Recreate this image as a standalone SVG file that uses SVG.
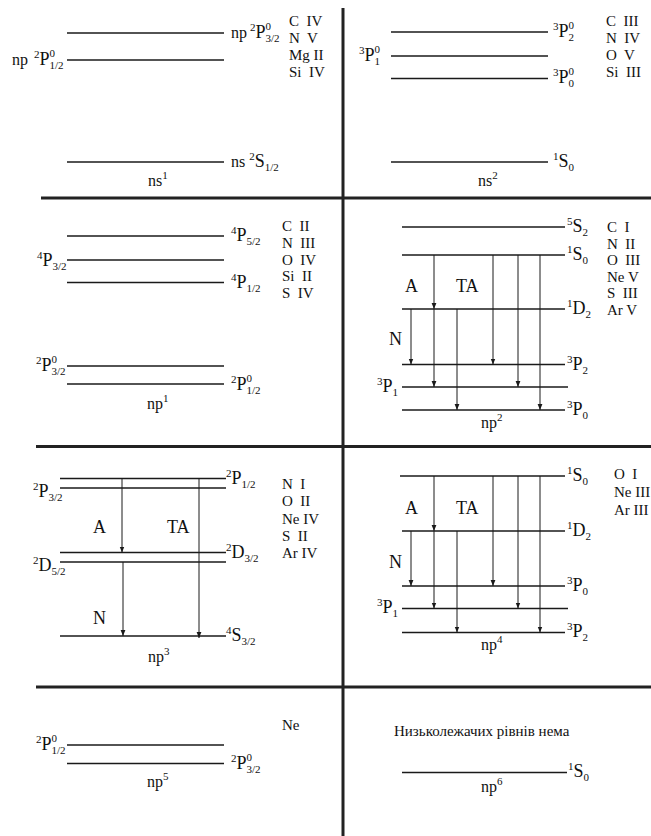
<svg xmlns="http://www.w3.org/2000/svg" width="651" height="836" viewBox="0 0 651 836">
<defs>
<style>
.fr{stroke:#222;stroke-width:3;fill:none}
.lv{stroke:#1a1a1a;stroke-width:1.5;fill:none}
.ar{stroke:#1a1a1a;stroke-width:1;fill:none;marker-end:url(#ah)}
text{font-family:"Liberation Serif","Times New Roman",serif;fill:#111}
.pre{font-size:16px}
.big{font-size:18px}
.sm{font-size:11px}
.ion{font-size:15px}
.tr{font-size:18px}
</style>
<marker id="ah" viewBox="0 0 6 6" refX="6" refY="3" markerWidth="6" markerHeight="6" markerUnits="userSpaceOnUse" orient="auto">
<path d="M0,0.6 L6,3 L0,5.4 Z" fill="#1a1a1a"/>
</marker>
</defs>
<rect width="651" height="836" fill="#fff"/>

<g id="frame">
<line class="fr" x1="343" y1="8" x2="343" y2="836"/>
<line class="fr" x1="41" y1="198" x2="651" y2="198"/>
<line class="fr" x1="36" y1="446.5" x2="651" y2="446.5"/>
<line class="fr" x1="36" y1="687" x2="651" y2="687"/>
</g>

<!-- Panel ns1 -->
<g id="panel-ns1">
<g id="ns1-P32"><line class="lv" x1="67" y1="33" x2="224" y2="33"/>
<text x="231" y="38"><tspan class="pre">np</tspan><tspan class="sm" dx="3" dy="-7">2</tspan><tspan class="big" dy="7">P</tspan><tspan class="sm" dy="-8">0</tspan><tspan class="sm" dx="-5.5" dy="12">3/2</tspan></text></g>
<g id="ns1-P12"><line class="lv" x1="67" y1="60" x2="224" y2="60"/>
<text x="12" y="65"><tspan class="pre">np</tspan><tspan class="sm" dx="6" dy="-7">2</tspan><tspan class="big" dy="7">P</tspan><tspan class="sm" dy="-8">0</tspan><tspan class="sm" dx="-5.5" dy="12">1/2</tspan></text></g>
<g id="ns1-S12"><line class="lv" x1="67" y1="162" x2="224" y2="162"/>
<text x="231" y="167"><tspan class="pre">ns</tspan><tspan class="sm" dx="4" dy="-7">2</tspan><tspan class="big" dy="7">S</tspan><tspan class="sm" dy="4">1/2</tspan></text></g>
<text class="pre" x="148" y="186">ns<tspan class="sm" dy="-7">1</tspan></text>
<g id="ns1-ions" class="ion">
<text x="289" y="26" xml:space="preserve">C  IV</text>
<text x="289" y="43" xml:space="preserve">N  V</text>
<text x="289" y="60" xml:space="preserve">Mg II</text>
<text x="289" y="77" xml:space="preserve">Si  IV</text>
</g>
</g>

<!-- Panel ns2 -->
<g id="panel-ns2">
<g id="ns2-P2"><line class="lv" x1="391" y1="32" x2="548" y2="32"/>
<text x="553" y="37"><tspan class="sm" dy="-7">3</tspan><tspan class="big" dy="7">P</tspan><tspan class="sm" dy="-8">0</tspan><tspan class="sm" dx="-5.5" dy="12">2</tspan></text></g>
<g id="ns2-P1"><line class="lv" x1="391" y1="56" x2="548" y2="56"/>
<text x="359" y="61"><tspan class="sm" dy="-7">3</tspan><tspan class="big" dy="7">P</tspan><tspan class="sm" dy="-8">0</tspan><tspan class="sm" dx="-5.5" dy="12">1</tspan></text></g>
<g id="ns2-P0"><line class="lv" x1="391" y1="78.5" x2="548" y2="78.5"/>
<text x="553" y="83"><tspan class="sm" dy="-7">3</tspan><tspan class="big" dy="7">P</tspan><tspan class="sm" dy="-8">0</tspan><tspan class="sm" dx="-5.5" dy="12">0</tspan></text></g>
<g id="ns2-S0"><line class="lv" x1="391" y1="162" x2="548" y2="162"/>
<text x="553" y="167"><tspan class="sm" dy="-7">1</tspan><tspan class="big" dy="7">S</tspan><tspan class="sm" dy="4">0</tspan></text></g>
<text class="pre" x="478" y="186">ns<tspan class="sm" dy="-7">2</tspan></text>
<g id="ns2-ions" class="ion">
<text x="606" y="26" xml:space="preserve">C  III</text>
<text x="606" y="43" xml:space="preserve">N  IV</text>
<text x="606" y="60" xml:space="preserve">O  V</text>
<text x="606" y="77" xml:space="preserve">Si  III</text>
</g>
</g>

<!-- Panel np1 -->
<g id="panel-np1">
<g id="np1-4P52"><line class="lv" x1="67" y1="236" x2="224" y2="236"/>
<text x="231" y="241"><tspan class="sm" dy="-7">4</tspan><tspan class="big" dy="7">P</tspan><tspan class="sm" dy="4">5/2</tspan></text></g>
<g id="np1-4P32"><line class="lv" x1="67" y1="260" x2="224" y2="260"/>
<text x="37" y="266"><tspan class="sm" dy="-7">4</tspan><tspan class="big" dy="7">P</tspan><tspan class="sm" dy="4">3/2</tspan></text></g>
<g id="np1-4P12"><line class="lv" x1="67" y1="282.5" x2="224" y2="282.5"/>
<text x="231" y="288"><tspan class="sm" dy="-7">4</tspan><tspan class="big" dy="7">P</tspan><tspan class="sm" dy="4">1/2</tspan></text></g>
<g id="np1-2P32"><line class="lv" x1="67" y1="366" x2="224" y2="366"/>
<text x="36" y="371"><tspan class="sm" dy="-7">2</tspan><tspan class="big" dy="7">P</tspan><tspan class="sm" dy="-8">0</tspan><tspan class="sm" dx="-5.5" dy="12">3/2</tspan></text></g>
<g id="np1-2P12"><line class="lv" x1="67" y1="384" x2="224" y2="384"/>
<text x="231" y="390"><tspan class="sm" dy="-7">2</tspan><tspan class="big" dy="7">P</tspan><tspan class="sm" dy="-8">0</tspan><tspan class="sm" dx="-5.5" dy="12">1/2</tspan></text></g>
<text class="pre" x="147" y="409">np<tspan class="sm" dy="-7">1</tspan></text>
<g id="np1-ions" class="ion">
<text x="282" y="231" xml:space="preserve">C  II</text>
<text x="282" y="247.75" xml:space="preserve">N  III</text>
<text x="282" y="264.5" xml:space="preserve">O  IV</text>
<text x="282" y="281.25" xml:space="preserve">Si  II</text>
<text x="282" y="298" xml:space="preserve">S  IV</text>
</g>
</g>

<!-- Panel np2 -->
<g id="panel-np2">
<g id="np2-5S2"><line class="lv" x1="402" y1="227" x2="565" y2="227"/>
<text x="567" y="232"><tspan class="sm" dy="-7">5</tspan><tspan class="big" dy="7">S</tspan><tspan class="sm" dy="4">2</tspan></text></g>
<g id="np2-1S0"><line class="lv" x1="402" y1="255" x2="565" y2="255"/>
<text x="567" y="260"><tspan class="sm" dy="-7">1</tspan><tspan class="big" dy="7">S</tspan><tspan class="sm" dy="4">0</tspan></text></g>
<g id="np2-1D2"><line class="lv" x1="402" y1="309" x2="565" y2="309"/>
<text x="567" y="314"><tspan class="sm" dy="-7">1</tspan><tspan class="big" dy="7">D</tspan><tspan class="sm" dy="4">2</tspan></text></g>
<g id="np2-3P2"><line class="lv" x1="402" y1="364.5" x2="565" y2="364.5"/>
<text x="567" y="370"><tspan class="sm" dy="-7">3</tspan><tspan class="big" dy="7">P</tspan><tspan class="sm" dy="4">2</tspan></text></g>
<g id="np2-3P1"><line class="lv" x1="402" y1="387" x2="568" y2="387"/>
<text x="377" y="392"><tspan class="sm" dy="-7">3</tspan><tspan class="big" dy="7">P</tspan><tspan class="sm" dy="4">1</tspan></text></g>
<g id="np2-3P0"><line class="lv" x1="402" y1="410" x2="565" y2="410"/>
<text x="567" y="415"><tspan class="sm" dy="-7">3</tspan><tspan class="big" dy="7">P</tspan><tspan class="sm" dy="4">0</tspan></text></g>
<text class="pre" x="481" y="428">np<tspan class="sm" dy="-7">2</tspan></text>
<text class="tr" x="405" y="292">A</text>
<text class="tr" x="456" y="292">TA</text>
<text class="tr" x="389" y="345">N</text>
<g id="np2-ions" class="ion">
<text x="607" y="232" xml:space="preserve">C  I</text>
<text x="607" y="248.6" xml:space="preserve">N  II</text>
<text x="607" y="265.2" xml:space="preserve">O  III</text>
<text x="607" y="281.8" xml:space="preserve">Ne V</text>
<text x="607" y="298.4" xml:space="preserve">S  III</text>
<text x="607" y="315" xml:space="preserve">Ar V</text>
</g>
</g>

<!-- Panel np3 -->
<g id="panel-np3">
<g id="np3-2P12"><line class="lv" x1="60" y1="478.5" x2="226" y2="478.5"/>
<text x="226" y="484"><tspan class="sm" dy="-7">2</tspan><tspan class="big" dy="7">P</tspan><tspan class="sm" dy="4">1/2</tspan></text></g>
<g id="np3-2P32"><line class="lv" x1="60" y1="488" x2="226" y2="488"/>
<text x="33" y="497"><tspan class="sm" dy="-7">2</tspan><tspan class="big" dy="7">P</tspan><tspan class="sm" dy="4">3/2</tspan></text></g>
<g id="np3-2D32"><line class="lv" x1="60" y1="552.5" x2="226" y2="552.5"/>
<text x="226" y="558"><tspan class="sm" dy="-7">2</tspan><tspan class="big" dy="7">D</tspan><tspan class="sm" dy="4">3/2</tspan></text></g>
<g id="np3-2D52"><line class="lv" x1="60" y1="562" x2="226" y2="562"/>
<text x="33" y="571"><tspan class="sm" dy="-7">2</tspan><tspan class="big" dy="7">D</tspan><tspan class="sm" dy="4">5/2</tspan></text></g>
<g id="np3-4S32"><line class="lv" x1="60" y1="636" x2="226" y2="636"/>
<text x="226" y="641"><tspan class="sm" dy="-7">4</tspan><tspan class="big" dy="7">S</tspan><tspan class="sm" dy="4">3/2</tspan></text></g>
<text class="pre" x="148" y="662">np<tspan class="sm" dy="-7">3</tspan></text>
<text class="tr" x="93" y="533">A</text>
<text class="tr" x="167" y="533">TA</text>
<text class="tr" x="93" y="624">N</text>
<g id="np3-ions" class="ion">
<text x="282" y="489" xml:space="preserve">N  I</text>
<text x="282" y="506.25" xml:space="preserve">O  II</text>
<text x="282" y="523.5" xml:space="preserve">Ne IV</text>
<text x="282" y="540.75" xml:space="preserve">S  II</text>
<text x="282" y="558" xml:space="preserve">Ar IV</text>
</g>
</g>

<!-- Panel np4 -->
<g id="panel-np4">
<g id="np4-1S0"><line class="lv" x1="400" y1="476" x2="565" y2="476"/>
<text x="567" y="481"><tspan class="sm" dy="-7">1</tspan><tspan class="big" dy="7">S</tspan><tspan class="sm" dy="4">0</tspan></text></g>
<g id="np4-1D2"><line class="lv" x1="402" y1="531" x2="565" y2="531"/>
<text x="567" y="536"><tspan class="sm" dy="-7">1</tspan><tspan class="big" dy="7">D</tspan><tspan class="sm" dy="4">2</tspan></text></g>
<g id="np4-3P0"><line class="lv" x1="402" y1="586" x2="565" y2="586"/>
<text x="567" y="591"><tspan class="sm" dy="-7">3</tspan><tspan class="big" dy="7">P</tspan><tspan class="sm" dy="4">0</tspan></text></g>
<g id="np4-3P1"><line class="lv" x1="402" y1="608.5" x2="568" y2="608.5"/>
<text x="377" y="613"><tspan class="sm" dy="-7">3</tspan><tspan class="big" dy="7">P</tspan><tspan class="sm" dy="4">1</tspan></text></g>
<g id="np4-3P2"><line class="lv" x1="402" y1="632.5" x2="565" y2="632.5"/>
<text x="567" y="637"><tspan class="sm" dy="-7">3</tspan><tspan class="big" dy="7">P</tspan><tspan class="sm" dy="4">2</tspan></text></g>
<text class="pre" x="481" y="650">np<tspan class="sm" dy="-7">4</tspan></text>
<text class="tr" x="405" y="514">A</text>
<text class="tr" x="456" y="514">TA</text>
<text class="tr" x="389" y="568">N</text>
<g id="np4-ions" class="ion">
<text x="614" y="479" xml:space="preserve">O  I</text>
<text x="614" y="497" xml:space="preserve">Ne III</text>
<text x="614" y="515" xml:space="preserve">Ar III</text>
</g>
</g>

<!-- Panel np5 -->
<g id="panel-np5">
<g id="np5-2P12"><line class="lv" x1="67" y1="745" x2="224" y2="745"/>
<text x="36" y="750"><tspan class="sm" dy="-7">2</tspan><tspan class="big" dy="7">P</tspan><tspan class="sm" dy="-8">0</tspan><tspan class="sm" dx="-5.5" dy="12">1/2</tspan></text></g>
<g id="np5-2P32"><line class="lv" x1="67" y1="763.5" x2="224" y2="763.5"/>
<text x="231" y="769"><tspan class="sm" dy="-7">2</tspan><tspan class="big" dy="7">P</tspan><tspan class="sm" dy="-8">0</tspan><tspan class="sm" dx="-5.5" dy="12">3/2</tspan></text></g>
<text class="pre" x="147" y="787">np<tspan class="sm" dy="-7">5</tspan></text>
<text class="ion" x="282" y="730">Ne</text>
</g>

<!-- Panel np6 -->
<g id="panel-np6">
<text class="ion" x="394" y="736">Низьколежачих рівнів нема</text>
<g id="np6-1S0"><line class="lv" x1="402" y1="772.5" x2="567" y2="772.5"/>
<text x="568" y="777"><tspan class="sm" dy="-7">1</tspan><tspan class="big" dy="7">S</tspan><tspan class="sm" dy="4">0</tspan></text></g>
<text class="pre" x="481" y="792">np<tspan class="sm" dy="-7">6</tspan></text>
</g>

<g id="connectors">
<line class="ar" x1="434" y1="255" x2="434" y2="309"/>
<line class="ar" x1="434" y1="309" x2="434" y2="387"/>
<line class="ar" x1="411" y1="309" x2="411" y2="364.5"/>
<line class="ar" x1="457" y1="309" x2="457" y2="410"/>
<line class="ar" x1="493" y1="255" x2="493" y2="364.5"/>
<line class="ar" x1="518" y1="255" x2="518" y2="387"/>
<line class="ar" x1="540" y1="255" x2="540" y2="410"/>
<line class="ar" x1="434" y1="476" x2="434" y2="531"/>
<line class="ar" x1="434" y1="531" x2="434" y2="608.5"/>
<line class="ar" x1="411" y1="531" x2="411" y2="586"/>
<line class="ar" x1="457" y1="531" x2="457" y2="632.5"/>
<line class="ar" x1="493" y1="476" x2="493" y2="586"/>
<line class="ar" x1="518" y1="476" x2="518" y2="608.5"/>
<line class="ar" x1="540" y1="476" x2="540" y2="632.5"/>
<line class="ar" x1="122" y1="478.5" x2="122" y2="552.5"/>
<line class="ar" x1="123" y1="562" x2="123" y2="636"/>
<line class="ar" x1="199" y1="478.5" x2="199" y2="638"/>
</g>
</svg>
